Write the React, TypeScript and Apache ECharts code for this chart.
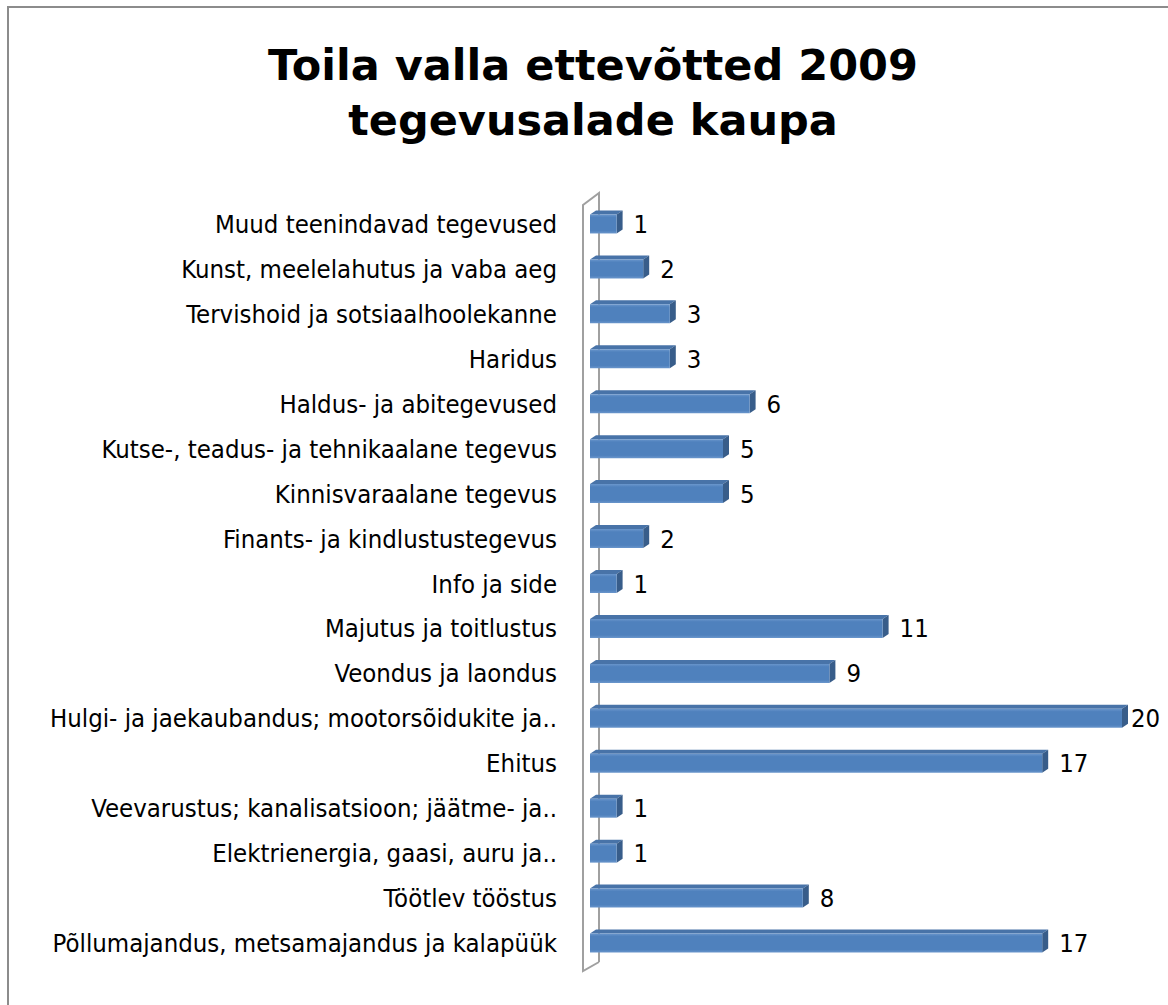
import React, { useEffect, useRef } from "react";
import * as echarts from "echarts";

const titleLines = ["Toila valla ettevõtted 2009", "tegevusalade kaupa"];

const categories = [
  "Muud teenindavad tegevused",
  "Kunst, meelelahutus ja vaba aeg",
  "Tervishoid ja sotsiaalhoolekanne",
  "Haridus",
  "Haldus- ja abitegevused",
  "Kutse-, teadus- ja tehnikaalane tegevus",
  "Kinnisvaraalane tegevus",
  "Finants- ja kindlustustegevus",
  "Info ja side",
  "Majutus ja toitlustus",
  "Veondus ja laondus",
  "Hulgi- ja jaekaubandus; mootorsõidukite ja..",
  "Ehitus",
  "Veevarustus; kanalisatsioon; jäätme- ja..",
  "Elektrienergia, gaasi, auru ja..",
  "Töötlev tööstus",
  "Põllumajandus, metsamajandus ja kalapüük",
];

const values = [1, 2, 3, 3, 6, 5, 5, 2, 1, 11, 9, 20, 17, 1, 1, 8, 17];

const FONT = "'DejaVu Sans Condensed', 'DejaVu Sans', sans-serif";

export default function App() {
  const ref = useRef<HTMLDivElement>(null);

  useEffect(() => {
    document.body.style.margin = "0";
    const chart = echarts.init(ref.current!, null, { renderer: "svg" });

    const frontGrad = new echarts.graphic.LinearGradient(0, 0, 0, 1, [
      { offset: 0, color: "#6a96cc" },
      { offset: 0.15, color: "#4f81bd" },
      { offset: 0.85, color: "#4f81bd" },
      { offset: 1, color: "#6a96cc" },
    ]);

    chart.setOption({
      animation: false,
      backgroundColor: "#ffffff",
      title: {
        text: titleLines.join("\n"),
        left: 588,
        top: 32,
        textAlign: "center",
        textStyle: {
          fontFamily: "'DejaVu Sans', sans-serif",
          fontWeight: "bold",
          fontSize: 43,
          lineHeight: 55,
          color: "#000000",
        },
      },
      graphic: [
        {
          type: "rect",
          shape: { x: 8, y: 7, width: 1200, height: 1100 },
          style: { fill: "none", stroke: "#8c8c8c", lineWidth: 2 },
          silent: true,
        },
        {
          type: "polyline",
          shape: { points: [[599, 962], [583, 971], [583, 205], [599, 193], [599, 962]] },
          style: { fill: "none", stroke: "#a0a0a0", lineWidth: 2 },
          silent: true,
        },
      ],
      grid: { left: 590, right: 46, top: 201.5, bottom: 39.5, containLabel: false },
      xAxis: { type: "value", min: 0, max: 20, show: false },
      yAxis: {
        type: "category",
        data: categories,
        inverse: true,
        axisLine: { show: false },
        axisTick: { show: false },
        splitLine: { show: false },
        axisLabel: {
          margin: 33,
          color: "#000000",
          fontSize: 25.5,
          fontFamily: FONT,
        },
      },
      series: [
        {
          type: "custom",
          encode: { x: 0, y: 1 },
          data: values.map((v, i) => [v, i]),
          renderItem: (params: any, api: any) => {
            const v = api.value(0);
            const idx = api.value(1);
            const p0 = api.coord([0, idx]);
            const p1 = api.coord([v, idx]);
            const h = 19;
            const dx = 6;
            const dy = 4;
            const x0 = p0[0];
            const x1 = p1[0];
            const yc = p0[1];
            const top = yc - h / 2;
            return {
              type: "group",
              children: [
                {
                  type: "polygon",
                  shape: { points: [[x0, top], [x0 + dx, top - dy], [x1 + dx, top - dy], [x1, top]] },
                  style: { fill: "#4873a8" },
                },
                {
                  type: "polygon",
                  shape: {
                    points: [[x1, top], [x1 + dx, top - dy], [x1 + dx, top - dy + h], [x1, top + h]],
                  },
                  style: { fill: "#385d8a" },
                },
                {
                  type: "rect",
                  shape: { x: x0, y: top, width: x1 - x0, height: h },
                  style: { fill: frontGrad },
                },
                {
                  type: "text",
                  x: Math.min(x1 + 17, 1131),
                  y: yc,
                  style: {
                    text: String(v),
                    fontSize: 25.5,
                    fontFamily: FONT,
                    fill: "#000000",
                    verticalAlign: "middle",
                    align: "left",
                  },
                },
              ],
            };
          },
        },
      ],
    });

    return () => chart.dispose();
  }, []);

  return <div ref={ref} style={{ width: 1168, height: 1005 }} />;
}
